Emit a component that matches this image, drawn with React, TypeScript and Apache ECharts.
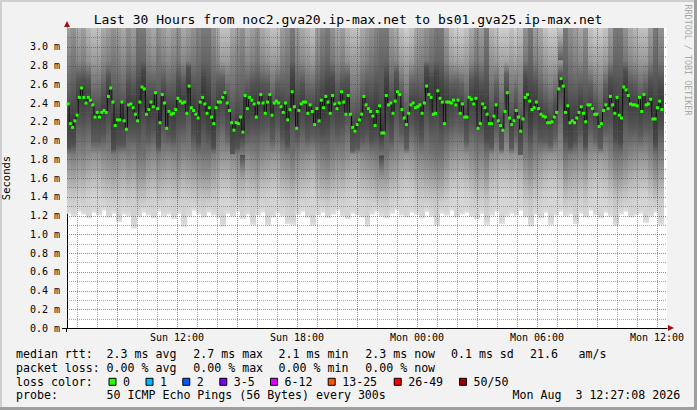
import React, { useEffect, useRef } from "react";
import * as echarts from "echarts";

const TITLE = "Last 30 Hours from noc2.gva20.ip-max.net to bs01.gva25.ip-max.net";
const Y_NAME = "Seconds";
const SIDE_TEXT = "RRDTOOL / TOBI OETIKER";

// time axis in minutes since Sun 00:00
const X_MIN = 390;
const X_MAX = 2190;
const DATA_START = 390;
const DATA_END = 2178;
const Y_MAX = 3.2;

const X_LABEL_VALUES = [720, 1080, 1440, 1800, 2160];
const X_LABELS = ["Sun 12:00", "Sun 18:00", "Mon 00:00", "Mon 06:00", "Mon 12:00"];

// median RTT (ms), read left to right
const MEDIAN_MS = [
  2.39, 2.18, 2.14, 2.21, 2.27, 2.46, 2.56, 2.46, 2.40, 2.46,
  2.43, 2.38, 2.25, 2.30, 2.25, 2.30, 2.32, 2.30, 2.47, 2.56,
  2.41, 2.16, 2.22, 2.22, 2.41, 2.21, 2.12, 2.38, 2.39, 2.35,
  2.28, 2.21, 2.41, 2.57, 2.55, 2.28, 2.33, 2.41, 2.36, 2.51,
  2.34, 2.19, 2.49, 2.40, 2.13, 2.31, 2.28, 2.29, 2.33, 2.45,
  2.42, 2.40, 2.41, 2.29, 2.58, 2.35, 2.32, 2.28, 2.24, 2.41,
  2.46, 2.39, 2.29, 2.35, 2.25, 2.18, 2.35, 2.41, 2.41, 2.46,
  2.51, 2.40, 2.32, 2.19, 2.11, 2.19, 2.18, 2.25, 2.09, 2.48,
  2.34, 2.46, 2.43, 2.39, 2.25, 2.40, 2.49, 2.40, 2.29, 2.41,
  2.49, 2.27, 2.40, 2.42, 2.40, 2.36, 2.30, 2.40, 2.22, 2.33,
  2.52, 2.36, 2.13, 2.32, 2.39, 2.41, 2.41, 2.29, 2.38, 2.31,
  2.17, 2.34, 2.21, 2.43, 2.35, 2.47, 2.41, 2.29, 2.48, 2.39,
  2.34, 2.40, 2.52, 2.41, 2.28, 2.48, 2.28, 2.14, 2.10, 2.17,
  2.22, 2.28, 2.47, 2.38, 2.34, 2.31, 2.26, 2.16, 2.31, 2.37,
  2.08, 2.08, 2.48, 2.38, 2.40, 2.29, 2.42, 2.52, 2.49, 2.33,
  2.24, 2.17, 2.29, 2.38, 2.40, 2.35, 2.36, 2.38, 2.29, 2.40,
  2.58, 2.49, 2.46, 2.28, 2.29, 2.53, 2.45, 2.41, 2.18, 2.41,
  2.41, 2.40, 2.43, 2.38, 2.43, 2.29, 2.39, 2.25,
  2.25, 2.46, 2.44, 2.39, 2.45, 2.13, 2.18, 2.39, 2.35, 2.28,
  2.18, 2.18, 2.26, 2.38, 2.21, 2.16, 2.11, 2.31, 2.51, 2.24,
  2.17, 2.21, 2.32, 2.25, 2.10, 2.23, 2.46, 2.49, 2.42, 2.33,
  2.35, 2.41, 2.34, 2.28, 2.26, 2.25, 2.19, 2.19, 2.20, 2.25,
  2.30, 2.55, 2.66, 2.58, 2.30, 2.37, 2.19, 2.21, 2.19, 2.24,
  2.30, 2.36, 2.29, 2.20, 2.38, 2.38, 2.34, 2.28, 2.28, 2.15,
  2.18, 2.32, 2.38, 2.34, 2.47, 2.38, 2.29, 2.46, 2.27, 2.24,
  2.57, 2.54, 2.48, 2.39, 2.38, 2.38, 2.37, 2.46, 2.31, 2.49,
  2.38, 2.39, 2.44, 2.23, 2.23, 2.35, 2.42, 2.33,
];

// lower edge of the smoke (fastest ping, ms) per column
const SMOKE_LO = [
  1.22, 1.19, 1.24, 1.21, 1.17, 1.23, 1.20, 1.25, 1.18, 1.22,
  1.13, 1.21, 1.19, 1.06, 1.18, 1.23, 1.20, 1.17, 1.24, 1.19,
  1.21, 1.16, 1.22, 1.08, 1.19, 1.25, 1.21, 1.18, 1.23, 1.20,
  1.17, 1.08, 1.22, 1.19, 1.24, 1.16, 1.21, 1.10, 1.20, 1.23,
  1.09, 1.18, 1.22, 1.19, 1.11, 1.10, 1.21, 1.24, 1.18, 1.09,
  1.20, 1.23, 1.17, 1.21, 1.25, 1.19, 1.16, 1.22, 1.20, 1.18,
  1.08, 1.21, 1.24, 1.19, 1.17, 1.22, 1.26, 1.20, 1.18, 1.23,
  1.21, 1.17, 1.24, 1.19, 1.09, 1.22, 1.20, 1.25, 1.18, 1.21,
  1.23, 1.19, 1.16, 1.22, 1.10, 1.20, 1.24, 1.11, 1.19, 1.22,
  1.20, 1.25, 1.18, 1.08, 1.21, 1.17, 1.23, 1.10, 1.20, 1.24,
  1.19, 1.21, 1.11, 1.22, 1.18, 1.25, 1.20, 1.17, 1.23, 1.19,
  1.09, 1.21, 1.24, 1.18, 1.20, 1.22, 1.12, 1.19, 1.23, 1.10,
];

// smoke column lightness (0 = dark spread, 9 = light spread)
const SMOKE_SHADE = [
  4, 3, 5, 4, 6, 7, 7, 5, 4, 3,
  4, 5, 3, 4, 1, 1, 4, 5, 3, 4,
  5, 4, 3, 5, 4, 3, 2, 1, 1, 3,
  5, 7, 7, 5, 4, 3, 5, 4, 3, 5,
  6, 7, 7, 4, 3, 1, 4, 5, 6, 7,
  4, 2, 1, 3, 5, 4, 6, 7, 7, 5,
  4, 3, 2, 1, 1, 4, 5, 7, 8, 7,
  5, 4, 3, 2, 1, 1, 4, 7, 8, 8,
  7, 5, 3, 4, 1, 6, 7, 8, 8, 7,
  8, 7, 3, 1, 4, 5, 7, 8, 8, 7,
  1, 3, 4, 5, 3, 7, 8, 8, 7, 4,
  1, 1, 3, 5, 6, 7, 7, 4, 1, 3,
];

const ROW_LABELS = ["median rtt:", "packet loss:", "loss color:", "probe:"];
const RTT_STATS = ["2.3 ms avg", "2.7 ms max", "2.1 ms min", "2.3 ms now", "0.1 ms sd", "21.6", "am/s"];
const LOSS_STATS = ["0.00 % avg", "0.00 % max", "0.00 % min", "0.00 % now"];
const LOSS_LABELS = ["0", "1", "2", "3-5", "6-12", "13-25", "26-49", "50/50"];
const LOSS_COLORS = ["#26ff00", "#00b8ff", "#0059ff", "#7e00ff", "#dd00ff", "#ff5500", "#ff0000", "#a10000"];
const PROBE_TEXT = "50 ICMP Echo Pings (56 Bytes) every 300s";
const DATE_TEXT = "Mon Aug  3 12:27:08 2026";

// layout
const W = 697;
const H = 410;
const G_LEFT = 67;
const G_TOP = 28;
const G_W = 600;
const G_H = 300;
const MONO = '"DejaVu Sans Mono", monospace';
const LEG_FONT = `11.6px ${MONO}`;
const ROW_Y = [354.2, 367.8, 381.8, 395.4];
const ROW_X = 16;
const STAT_X = [106.6, 193.3, 278.6, 365.3, 451, 530, 578.6];
const SWATCH_X = [108.5, 145.5, 182.3, 219.3, 270, 327.7, 393.7, 459];
const PROBE_X = 106.6;
const DATE_X = 512.6;
const MAJOR_GRID = "rgba(255,0,0,0.62)";
const MINOR_GRID = "rgba(95,95,95,0.55)";

function gray(g: number) {
  const v = Math.max(0, Math.min(255, Math.round(g)));
  return `rgb(${v},${v},${v})`;
}

export default function App() {
  const ref = useRef<HTMLDivElement>(null);
  useEffect(() => {
    if (!ref.current) return;
    const chart = echarts.init(ref.current, undefined, { renderer: "svg" });

    const medStep = (DATA_END - DATA_START) / MEDIAN_MS.length;
    const smokeStep = (DATA_END - DATA_START) / SMOKE_LO.length;
    const medianData = MEDIAN_MS.map((v, i) => [DATA_START + (i + 0.5) * medStep, v]);
    const smokeData = SMOKE_LO.map((lo, j) => {
      const t0 = DATA_START + j * smokeStep;
      const t1 = t0 + smokeStep;
      const tm = (t0 + t1) / 2;
      const mi = Math.min(MEDIAN_MS.length - 1, Math.floor((tm - DATA_START) / medStep));
      return [t0, t1, lo, SMOKE_SHADE[j], MEDIAN_MS[mi]];
    });

    const graphics: any[] = [];
    // frame
    graphics.push({ type: "rect", shape: { x: 0, y: 0, width: W, height: 2 }, style: { fill: "#cfcfcf" }, silent: true });
    graphics.push({ type: "rect", shape: { x: 0, y: 0, width: 2, height: H }, style: { fill: "#cfcfcf" }, silent: true });
    graphics.push({ type: "rect", shape: { x: 0, y: H - 3, width: W, height: 3 }, style: { fill: "#9e9e9e" }, silent: true });
    graphics.push({ type: "rect", shape: { x: W - 3, y: 0, width: 3, height: H }, style: { fill: "#9e9e9e" }, silent: true });
    // title
    graphics.push({
      type: "text", x: 348, y: 19.5, silent: true,
      style: { text: TITLE, font: `13px ${MONO}`, fill: "#000", textAlign: "center", textVerticalAlign: "middle" },
    });
    graphics.push({
      type: "text", x: 687.5, y: 60, rotation: -Math.PI / 2, silent: true,
      style: { text: SIDE_TEXT, font: `8.4px ${MONO}`, fill: "#a8a8a8", textAlign: "center", textVerticalAlign: "middle" },
    });
    // axis arrows and extensions
    graphics.push({ type: "polygon", z: 120, shape: { points: [[64, 27], [70, 27], [67, 21]] }, style: { fill: "#a01010" }, silent: true });
    graphics.push({ type: "polygon", z: 120, shape: { points: [[668, 325], [668, 331], [674, 328]] }, style: { fill: "#a01010" }, silent: true });
    graphics.push({ type: "rect", z: 120, shape: { x: 62, y: 328, width: 5, height: 1 }, style: { fill: "#000" }, silent: true });
    graphics.push({ type: "rect", z: 120, shape: { x: 66, y: 328, width: 1, height: 4 }, style: { fill: "#000" }, silent: true });
    // legend rows
    ROW_LABELS.forEach((t, r) => {
      graphics.push({ type: "text", x: ROW_X, y: ROW_Y[r], silent: true, style: { text: t, font: LEG_FONT, fill: "#000", textVerticalAlign: "middle" } });
    });
    RTT_STATS.forEach((t, i) => {
      graphics.push({ type: "text", x: STAT_X[i], y: ROW_Y[0], silent: true, style: { text: t, font: LEG_FONT, fill: "#000", textVerticalAlign: "middle" } });
    });
    LOSS_STATS.forEach((t, i) => {
      graphics.push({ type: "text", x: STAT_X[i], y: ROW_Y[1], silent: true, style: { text: t, font: LEG_FONT, fill: "#000", textVerticalAlign: "middle" } });
    });
    LOSS_LABELS.forEach((t, i) => {
      graphics.push({
        type: "rect", silent: true,
        shape: { x: SWATCH_X[i] + 0.5, y: ROW_Y[2] - 3.5, width: 7, height: 7 },
        style: { fill: LOSS_COLORS[i], stroke: "#000", lineWidth: 1 },
      });
      graphics.push({ type: "text", x: SWATCH_X[i] + 14.5, y: ROW_Y[2], silent: true, style: { text: t, font: LEG_FONT, fill: "#000", textVerticalAlign: "middle" } });
    });
    graphics.push({ type: "text", x: PROBE_X, y: ROW_Y[3], silent: true, style: { text: PROBE_TEXT, font: LEG_FONT, fill: "#000", textVerticalAlign: "middle" } });
    graphics.push({ type: "text", x: DATE_X, y: ROW_Y[3], silent: true, style: { text: DATE_TEXT, font: LEG_FONT, fill: "#000", textVerticalAlign: "middle" } });

    const option: any = {
      animation: false,
      backgroundColor: "#f2f2f2",
      grid: {
        left: G_LEFT, top: G_TOP, width: G_W, height: G_H,
        containLabel: false, outerBoundsMode: "none",
        show: true, backgroundColor: "#ffffff", borderWidth: 0,
      },
      xAxis: {
        type: "value", min: X_MIN, max: X_MAX,
        axisLine: { show: true, lineStyle: { color: "#000", width: 1 } },
        axisTick: { show: false },
        splitLine: { show: false },
        axisLabel: {
          customValues: X_LABEL_VALUES,
          formatter: (v: number) => {
            const i = X_LABEL_VALUES.indexOf(Math.round(v));
            return i >= 0 ? X_LABELS[i] : "";
          },
          fontFamily: MONO, fontSize: 10, color: "#000", margin: 4,
        },
      },
      yAxis: {
        type: "value", min: 0, max: Y_MAX, interval: 0.1,
        axisLine: { show: true, lineStyle: { color: "#000", width: 1 } },
        axisTick: { show: false },
        splitLine: { show: false },
        axisLabel: {
          formatter: (v: number) => {
            const k = Math.round(v * 10);
            if (Math.abs(v * 10 - k) > 1e-6 || k % 2 !== 0 || k > 30) return "";
            return (k / 10).toFixed(1) + " m";
          },
          fontFamily: MONO, fontSize: 10, color: "#000", margin: 7,
        },
        name: Y_NAME, nameLocation: "middle", nameGap: 56,
        nameTextStyle: { fontFamily: MONO, fontSize: 10.5, color: "#000" },
      },
      series: [
        {
          type: "custom", name: "smoke", silent: true, z: 1,
          data: smokeData,
          encode: { x: [0, 1], y: 2 },
          renderItem: (params: any, api: any) => {
            const t0 = api.value(0), t1 = api.value(1), lo = api.value(2), s = api.value(3), med = api.value(4);
            const p0 = api.coord([t0, Y_MAX]);
            const p1 = api.coord([t1, lo]);
            const x = Math.floor(p0[0]);
            const w = Math.ceil(p1[0]) - x;
            const yTop = p0[1];
            const yBot = p1[1];
            const raw: number[][] = [
              [Y_MAX, 110 + s * 12],
              [2.85, 92 + s * 9],
              [med + 0.2, 66 + s * 4],
              [med, 52 + s * 2],
              [med - 0.25, 70 + s * 3],
              [1.85, 108 + s * 5],
              [1.6, 150 + s * 5],
              [1.4, 190 + s * 3],
              [lo + 0.04, 214],
              [lo, 226],
            ];
            const stops = raw
              .filter((r) => r[0] <= Y_MAX && r[0] >= lo)
              .sort((a, b) => b[0] - a[0])
              .map((r) => ({ offset: (Y_MAX - r[0]) / (Y_MAX - lo), color: gray(r[1]) }));
            return {
              type: "rect",
              shape: { x, y: yTop, width: w, height: yBot - yTop },
              style: { fill: new echarts.graphic.LinearGradient(0, 0, 0, 1, stops) },
            };
          },
        },
        {
          type: "line", name: "median", silent: true, z: 110,
          data: medianData,
          step: "middle",
          showSymbol: true, showAllSymbol: true,
          symbol: "rect", symbolSize: [3, 3],
          itemStyle: { color: "#26ff00", borderWidth: 0 },
          lineStyle: { color: "#101010", width: 1 },
          emphasis: { disabled: true },
        },
      ],
    };
    chart.setOption(option);

    // grid lines above the smoke, placed through the chart's own scales
    const gridEls: any[] = [];
    for (let m = 420; m < X_MAX; m += 60) {
      const px = Math.round(chart.convertToPixel({ gridIndex: 0 }, [m, 0])[0]) + 0.5;
      gridEls.push({
        type: "line", z: 100, silent: true,
        shape: { x1: px, y1: G_TOP, x2: px, y2: G_TOP + G_H },
        style: { stroke: m % 180 === 0 ? MAJOR_GRID : MINOR_GRID, lineWidth: 1, lineDash: [1, 1] },
      });
    }
    for (let k = 1; k <= 31; k++) {
      const py = Math.round(chart.convertToPixel({ gridIndex: 0 }, [X_MIN, k / 10])[1]) + 0.5;
      gridEls.push({
        type: "line", z: 100, silent: true,
        shape: { x1: G_LEFT, y1: py, x2: G_LEFT + G_W, y2: py },
        style: { stroke: k % 2 === 0 ? MAJOR_GRID : MINOR_GRID, lineWidth: 1, lineDash: [1, 1] },
      });
    }
    chart.setOption({ graphic: gridEls.concat(graphics) });
    return () => chart.dispose();
  }, []);
  return (
    <div style={{ position: "absolute", left: 0, top: 0, width: W, height: H }}>
      <div ref={ref} style={{ width: W, height: H }} />
    </div>
  );
}
